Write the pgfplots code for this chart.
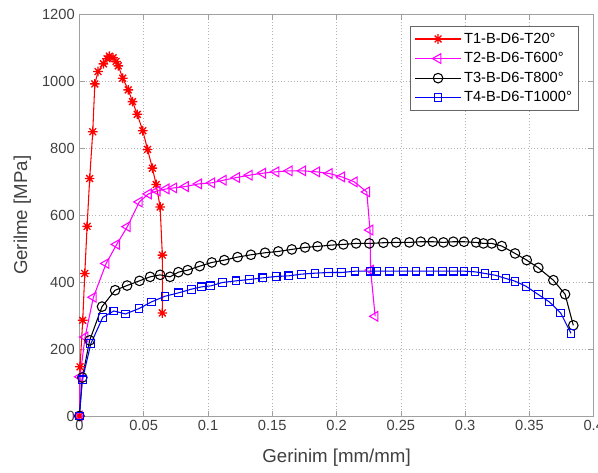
\documentclass[border=0pt]{standalone}
\usepackage{fontspec}
\setmainfont{Liberation Sans}
\usepackage{pgfplots}
\pgfplotsset{compat=1.18}
\definecolor{axgray}{HTML}{A0A0A0}
\definecolor{lblgray}{HTML}{404040}
\definecolor{mag}{rgb}{1,0,1}
% MATLAB-like '*' marker: plus and cross together
\pgfdeclareplotmark{mstar}{%
  \pgfpathmoveto{\pgfqpoint{-\pgfplotmarksize}{0pt}}%
  \pgfpathlineto{\pgfqpoint{\pgfplotmarksize}{0pt}}%
  \pgfpathmoveto{\pgfqpoint{0pt}{-\pgfplotmarksize}}%
  \pgfpathlineto{\pgfqpoint{0pt}{\pgfplotmarksize}}%
  \pgfpathmoveto{\pgfqpoint{-0.707\pgfplotmarksize}{-0.707\pgfplotmarksize}}%
  \pgfpathlineto{\pgfqpoint{0.707\pgfplotmarksize}{0.707\pgfplotmarksize}}%
  \pgfpathmoveto{\pgfqpoint{-0.707\pgfplotmarksize}{0.707\pgfplotmarksize}}%
  \pgfpathlineto{\pgfqpoint{0.707\pgfplotmarksize}{-0.707\pgfplotmarksize}}%
  \pgfusepathqstroke}
\begin{document}
\begin{tikzpicture}
\begin{axis}[
  scale only axis, width=385.5pt, height=300.75pt,
  xmin=0, xmax=0.4, ymin=0, ymax=1200,
  xtick={0,0.05,...,0.4}, ytick={0,200,...,1200},
  scaled ticks=false,
  xticklabel style={/pgf/number format/fixed, /pgf/number format/precision=2},
  /pgf/number format/1000 sep={},
  /pgf/number format/assume math mode=true,
  tick label style={font=\fontsize{11}{13}\selectfont, text=lblgray},
  tick align=inside, major tick length=4pt,
  axis line style={axgray}, every tick/.style={axgray},
  grid=major, major grid style={dotted, gray!60},
  xlabel={Gerinim [mm/mm]}, ylabel={Gerilme [MPa]},
  label style={font=\fontsize{14}{16}\selectfont, text=lblgray},
  xlabel style={at={(axis description cs:0.5,-0.105)}, anchor=center},
  ylabel style={at={(axis description cs:-0.111,0.5)}, anchor=center},
  legend style={at={(0.971,0.972)}, anchor=north east, draw=black!60,
    font=\fontsize{11}{13}\selectfont, row sep=1.5pt, inner xsep=3pt, inner ysep=3pt},
  legend cell align=left,
  legend image code/.code={\draw[mark repeat=2, mark phase=2, #1]
    plot coordinates {(0cm,0cm)(0.6cm,0cm)(1.2cm,0cm)};},
  every axis plot/.append style={line width=0.8pt},
]
\coordinate (sw) at (rel axis cs:0,0);
\coordinate (ne) at (rel axis cs:1,1);
\addplot[red, mark=mstar, mark size=3.6pt, mark options={line width=1pt}] coordinates {
(0,0)(0.0005,147)(0.0026,286)(0.0042,426)(0.006,567)(0.008,710)(0.0104,850)
(0.012,993)(0.0145,1030)(0.0187,1053)(0.0215,1068)(0.0233,1076)(0.0262,1071)
(0.0285,1060)(0.0303,1047)(0.0337,1010)(0.038,975)(0.0413,940)(0.045,902)
(0.0493,853)(0.053,797)(0.0568,741)(0.0597,692)(0.0628,625)(0.0645,481)(0.0645,308)};
\addlegendentry{T1-B-D6-T20°}
\addplot[mag, mark=triangle, mark size=4.2pt, mark options={rotate=90}] coordinates {
(0,0)(0.0005,117)(0.0044,236)(0.0109,355)(0.0208,456)(0.029,513)(0.0373,566)
(0.0466,640)(0.0537,664)(0.0605,673)(0.0675,679)(0.0735,682)(0.0825,686)
(0.0928,694)(0.103,697)(0.112,705)(0.1224,713)(0.1322,720)(0.1426,726)
(0.1529,730)(0.1633,733)(0.1738,733)(0.1846,730)(0.1944,725)(0.204,715)
(0.2138,700)(0.2235,670)(0.226,556)(0.2265,436)(0.23,298)};
\addlegendentry{T2-B-D6-T600°}
\addplot[black, mark=o, mark size=3.6pt] coordinates {
(0,0)(0.0023,115)(0.008,226)(0.0176,327)(0.0278,376)(0.0371,390)(0.0467,404)
(0.055,416)(0.0628,422)(0.0705,416)(0.077,430)(0.0842,436)(0.0936,448)(0.103,459)
(0.1127,466)(0.123,475)(0.1334,482)(0.1444,488)(0.1547,492)(0.1652,498)(0.1755,504)
(0.1852,507)(0.1963,511)(0.2053,513)(0.2152,516)(0.2255,516)(0.2364,518)(0.2463,519)
(0.2566,519)(0.2655,521)(0.2748,521)(0.2831,519)(0.2908,521)(0.2991,521)(0.3085,519)
(0.3142,516)(0.3207,516)(0.3285,508)(0.3388,486)(0.3479,466)(0.3569,443)(0.3686,406)
(0.3777,364)(0.3841,271)};
\addlegendentry{T3-B-D6-T800°}
\addplot[blue, mark=square, mark size=2.9pt] coordinates {
(0,0)(0.0023,108)(0.0089,216)(0.0182,295)(0.0268,314)(0.0358,305)(0.0463,321)
(0.056,341)(0.0666,358)(0.077,368)(0.087,379)(0.0949,386)(0.1022,389)(0.1111,399)
(0.1218,404)(0.1321,408)(0.1427,413)(0.153,417)(0.1629,419)(0.1725,424)(0.1833,427)
(0.1936,429)(0.204,429)(0.2144,433)(0.2261,433)(0.2313,433)(0.2411,433)(0.2519,433)
(0.2618,433)(0.2727,433)(0.2826,433)(0.2908,433)(0.2991,433)(0.3077,431)(0.3155,426)
(0.3232,421)(0.3318,411)(0.3388,403)(0.3473,388)(0.3569,363)(0.3655,341)(0.3743,308)
(0.3823,247)};
\addlegendentry{T4-B-D6-T1000°}
\end{axis}
\pgfresetboundingbox
\path ([shift={(-59.5pt,-42.2pt)}]sw) rectangle ([shift={(3.2pt,11pt)}]ne);
\end{tikzpicture}
\end{document}
